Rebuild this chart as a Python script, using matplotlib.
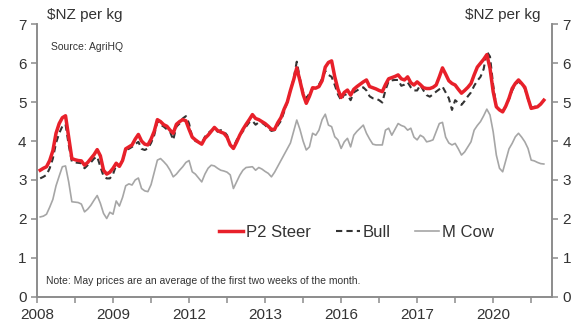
import matplotlib
import matplotlib.pyplot as plt
import numpy as np

matplotlib.use("Agg")
plt.rcParams['font.family'] = ['Liberation Sans', 'DejaVu Sans']

# Monthly prices, Feb 2008 .. May 2021 ($NZ per kg)
steer = [3.25, 3.30, 3.34, 3.50, 3.75, 4.20, 4.45, 4.60, 4.65, 4.10,
         3.55, 3.52, 3.50, 3.49, 3.38, 3.45, 3.55, 3.65, 3.78, 3.62,
         3.25, 3.15, 3.20, 3.30, 3.43, 3.35, 3.50, 3.80, 3.85, 3.90,
         4.05, 4.17, 4.00, 3.92, 3.90, 4.05, 4.25, 4.55, 4.50, 4.42,
         4.38, 4.28, 4.20, 4.43, 4.50, 4.55, 4.52, 4.30, 4.10, 4.03,
         3.97, 3.92, 4.07, 4.15, 4.25, 4.35, 4.27, 4.23, 4.20, 4.10,
         3.90, 3.81, 3.97, 4.15, 4.30, 4.43, 4.55, 4.68, 4.58, 4.55,
         4.50, 4.45, 4.38, 4.30, 4.30, 4.47, 4.60, 4.82, 5.00, 5.30,
         5.57, 5.88, 5.55, 5.20, 4.97, 5.15, 5.37, 5.36, 5.40, 5.55,
         5.90, 6.02, 6.06, 5.65, 5.33, 5.12, 5.25, 5.31, 5.18, 5.33,
         5.40, 5.46, 5.52, 5.57, 5.40, 5.37, 5.34, 5.30, 5.27, 5.45,
         5.60, 5.63, 5.66, 5.70, 5.60, 5.57, 5.65, 5.50, 5.44, 5.52,
         5.45, 5.37, 5.35, 5.35, 5.38, 5.44, 5.65, 5.88, 5.72, 5.55,
         5.48, 5.44, 5.33, 5.23, 5.30, 5.38, 5.48, 5.70, 5.90, 6.00,
         6.10, 6.22, 5.87, 5.27, 4.88, 4.80, 4.75, 4.90, 5.10, 5.35,
         5.48, 5.57, 5.48, 5.38, 5.10, 4.84, 4.86, 4.88, 4.95, 5.05]

bull = [3.04, 3.08, 3.13, 3.30, 3.55, 3.95, 4.20, 4.38, 4.43, 3.90,
        3.47, 3.45, 3.44, 3.43, 3.30, 3.38, 3.45, 3.55, 3.60, 3.34,
        3.10, 3.04, 3.04, 3.15, 3.38, 3.36, 3.50, 3.77, 3.80, 3.85,
        3.92, 3.98, 3.80, 3.77, 3.81, 3.95, 4.15, 4.50, 4.42, 4.37,
        4.30, 4.24, 4.03, 4.37, 4.45, 4.58, 4.64, 4.45, 4.10, 4.00,
        3.97, 3.94, 4.11, 4.20, 4.27, 4.33, 4.24, 4.28, 4.25, 4.15,
        3.90, 3.84, 4.02, 4.15, 4.25, 4.37, 4.48, 4.52, 4.42, 4.48,
        4.47, 4.41, 4.33, 4.26, 4.28, 4.40, 4.52, 4.75, 5.00, 5.30,
        5.60, 6.04, 5.60, 5.25, 5.10, 5.22, 5.35, 5.36, 5.45, 5.60,
        5.80, 5.70, 5.65, 5.44, 5.20, 5.05, 5.20, 5.18, 5.05, 5.25,
        5.30, 5.35, 5.38, 5.30, 5.15, 5.10, 5.09, 5.05, 4.99, 5.31,
        5.54, 5.56, 5.57, 5.57, 5.42, 5.45, 5.51, 5.38, 5.30, 5.30,
        5.44, 5.30, 5.18, 5.14, 5.20, 5.27, 5.33, 5.40, 5.25, 5.10,
        4.80, 5.05, 4.98, 4.93, 5.03, 5.15, 5.25, 5.42, 5.55, 5.65,
        5.85, 6.30, 6.17, 5.44, 4.88, 4.80, 4.77, 4.88, 5.08, 5.30,
        5.45, 5.53, 5.45, 5.35, 5.08, 4.86, 4.88, 4.90, 4.95, 5.05]

cow = [2.05, 2.07, 2.12, 2.30, 2.50, 2.85, 3.10, 3.34, 3.36, 2.95,
       2.44, 2.43, 2.42, 2.38, 2.18, 2.25, 2.35, 2.48, 2.60, 2.40,
       2.14, 2.01, 2.17, 2.12, 2.46, 2.33, 2.55, 2.85, 2.90, 2.87,
       3.00, 3.05, 2.78, 2.72, 2.70, 2.88, 3.20, 3.51, 3.55, 3.47,
       3.38, 3.25, 3.08, 3.15, 3.25, 3.34, 3.45, 3.50, 3.21, 3.15,
       3.05, 2.95, 3.15, 3.30, 3.38, 3.36, 3.30, 3.25, 3.23, 3.20,
       3.13, 2.78, 2.95, 3.12, 3.25, 3.32, 3.33, 3.34, 3.25, 3.32,
       3.28, 3.22, 3.17, 3.08, 3.20, 3.35, 3.50, 3.65, 3.80, 3.95,
       4.24, 4.54, 4.30, 4.00, 3.77, 3.85, 4.20, 4.15, 4.28, 4.55,
       4.69, 4.41, 4.37, 4.11, 4.03, 3.81, 3.98, 4.07, 3.85, 4.15,
       4.25, 4.33, 4.41, 4.20, 4.05, 3.92, 3.90, 3.90, 3.90, 4.28,
       4.33, 4.15, 4.30, 4.45, 4.40, 4.37, 4.28, 4.33, 4.10, 4.03,
       4.15, 4.10, 3.98, 4.00, 4.03, 4.24, 4.45, 4.48, 4.10, 3.95,
       3.90, 3.94, 3.80, 3.64, 3.72, 3.85, 3.98, 4.28, 4.40, 4.50,
       4.65, 4.82, 4.67, 4.24, 3.64, 3.30, 3.21, 3.51, 3.80, 3.94,
       4.11, 4.20, 4.10, 3.98, 3.81, 3.51, 3.49, 3.45, 3.42, 3.41]

tick_labels = ["2008", "2009", "2012", "2013", "2016", "2017", "2020"]

months = np.arange(1, len(steer) + 1)
text_col = "#333333"
axis_col = "#8c8c8c"

fig = plt.figure(figsize=(5.82, 3.33), dpi=100)
ax = fig.add_axes([0.0636, 0.109, 0.885, 0.818])

ax.plot(months, cow, color="#a6a6a6", lw=1.2, label="M Cow", zorder=2)
ax.plot(months, bull, color="#333333", lw=1.5, ls=(0, (3, 2)), label="Bull", zorder=3)
ax.plot(months, steer, color="#e8202a", lw=2.5, label="P2 Steer", zorder=4)

ax.set_xlim(0, 162.6)
ax.set_ylim(0, 7)
ax.set_xticks(np.arange(0, 145, 24))
ax.set_xticklabels(tick_labels)
ax.set_xticks(np.arange(12, 160, 24), minor=True)
ax.set_yticks(range(0, 8))

ax2 = ax.twinx()
ax2.set_ylim(0, 7)
ax2.set_yticks(range(0, 8))

for a in (ax, ax2):
    a.spines["top"].set_visible(False)
    for s in ("left", "right", "bottom"):
        a.spines[s].set_color(axis_col)
        a.spines[s].set_linewidth(1.2)
    a.tick_params(axis="both", which="both", colors=axis_col, labelcolor=text_col,
                  labelsize=11, length=4, width=1.1, direction="out")
ax.tick_params(axis="x", which="minor", length=4)
ax.tick_params(axis="x", pad=4)

fig.text(0.081, 0.955, r"\$NZ per kg", fontsize=11, color=text_col, ha="left", va="center")
fig.text(0.928, 0.955, r"\$NZ per kg", fontsize=11, color=text_col, ha="right", va="center")
ax.text(0.027, 0.915, "Source: AgriHQ", transform=ax.transAxes, fontsize=7.5,
        color=text_col, ha="left", va="center")
ax.text(0.017, 0.058, "Note: May prices are an average of the first two weeks of the month.",
        transform=ax.transAxes, fontsize=7.5, color=text_col, ha="left", va="center")

handles, labels = ax.get_legend_handles_labels()
order = [2, 1, 0]
ax.legend([handles[i] for i in order], [labels[i] for i in order], ncol=3,
          frameon=False, fontsize=12, loc="center", bbox_to_anchor=(0.62, 0.235),
          handlelength=1.45, handletextpad=0.15, columnspacing=1.5, labelcolor=text_col)

fig.savefig("out.png", dpi=100)
